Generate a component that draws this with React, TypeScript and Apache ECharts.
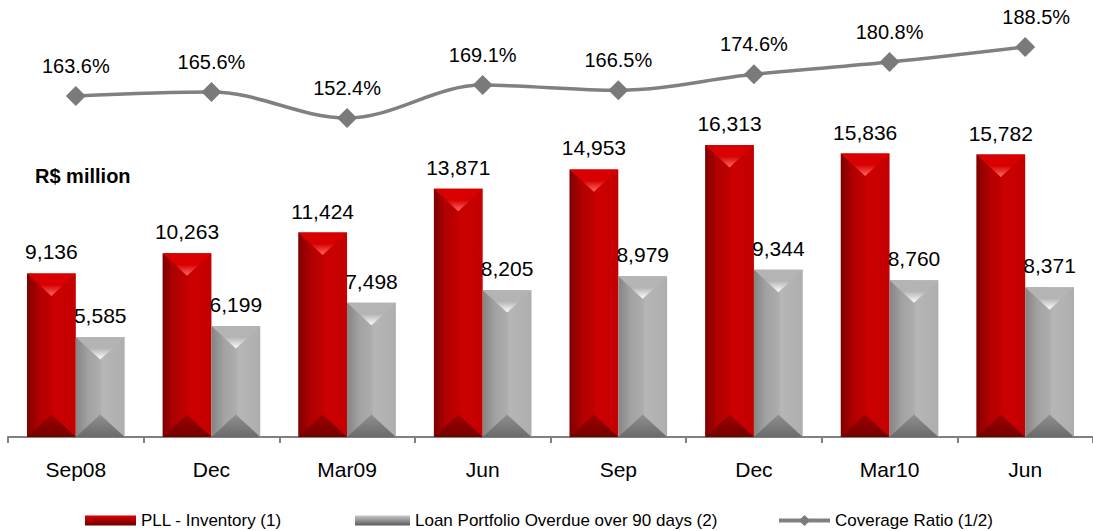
import React, { useEffect, useRef } from "react";
import * as echarts from "echarts";

const categories = ["Sep08", "Dec", "Mar09", "Jun", "Sep", "Dec", "Mar10", "Jun"];
const pllInventory = [9136, 10263, 11424, 13871, 14953, 16313, 15836, 15782];
const overdue90 = [5585, 6199, 7498, 8205, 8979, 9344, 8760, 8371];
const coverageRatio = [163.6, 165.6, 152.4, 169.1, 166.5, 174.6, 180.8, 188.5];

const seriesNames = [
  "PLL - Inventory (1)",
  "Loan Portfolio Overdue over 90 days (2)",
  "Coverage Ratio (1/2)",
];

const FONT = "Arial, 'Liberation Sans', sans-serif";

type Palette = {
  body: string[];
  topEdge: string;
  apex: string;
  bottomTop: string;
  bottomEdge: string;
};

const redPalette: Palette = {
  body: ["#7e0000", "#b00000", "#c20000", "#cc0000", "#c40000"],
  topEdge: "#d80000",
  apex: "#ff6a6a",
  bottomTop: "#a00000",
  bottomEdge: "#720000",
};
const grayPalette: Palette = {
  body: ["#848484", "#a2a2a2", "#adadad", "#b6b6b6", "#aeaeae"],
  topEdge: "#b4b4b4",
  apex: "#ffffff",
  bottomTop: "#909090",
  bottomEdge: "#6a6a6a",
};

function makeRenderItem(pal: Palette, side: number) {
  return (params: any, api: any) => {
    const idx = api.value(0);
    const v = api.value(1);
    const top = api.coord([idx, v]);
    const base = api.coord([idx, 0]);
    const band = api.size([1, 0])[0];
    const w = band * 0.36;
    const x0 = side < 0 ? top[0] - w : top[0];
    const x1 = x0 + w;
    const xc = (x0 + x1) / 2;
    const y0 = top[1];
    const yb = base[1];
    const h = yb - y0;
    const d = Math.min(w * 0.46, h / 2);
    const body = pal.body;
    return {
      type: "group",
      children: [
        {
          type: "rect",
          shape: { x: x0, y: y0, width: w, height: h },
          style: {
            fill: new echarts.graphic.LinearGradient(1, 0, 0, 0, [
              { offset: 0, color: body[4] },
              { offset: 0.45, color: body[3] },
              { offset: 0.5, color: body[2] },
              { offset: 0.75, color: body[1] },
              { offset: 1, color: body[0] },
            ]),
          },
        },
        {
          type: "polygon",
          shape: { points: [[x0, y0], [x1, y0], [xc, y0 + d]] },
          style: {
            fill: new echarts.graphic.LinearGradient(0, 0, 0, 1, [
              { offset: 0, color: pal.topEdge },
              { offset: 0.5, color: pal.topEdge },
              { offset: 1, color: pal.apex },
            ]),
          },
        },
        {
          type: "polygon",
          shape: { points: [[x0, yb], [x1, yb], [xc, yb - d]] },
          style: {
            fill: new echarts.graphic.LinearGradient(0, 0, 0, 1, [
              { offset: 0, color: pal.bottomTop },
              { offset: 1, color: pal.bottomEdge },
            ]),
          },
        },
        {
          type: "text",
          x: xc,
          y: y0 - 11,
          style: {
            text: Number(v).toLocaleString("en-US"),
            align: "center",
            verticalAlign: "bottom",
            fontSize: 21,
            fontFamily: FONT,
            fill: "#000",
          },
        },
      ],
    };
  };
}

export default function App() {
  const ref = useRef<HTMLDivElement>(null);

  useEffect(() => {
    if (!ref.current) return;
    const chart = echarts.init(ref.current, undefined, { renderer: "svg" });

    const legendText = { fontSize: 17, fontFamily: FONT, color: "#000" };

    chart.setOption({
      animation: false,
      backgroundColor: "#fff",
      grid: { left: 8, right: -5, top: 20, bottom: 94, containLabel: false },
      xAxis: {
        type: "category",
        data: categories,
        boundaryGap: true,
        axisLine: { lineStyle: { color: "#808080", width: 2 } },
        axisTick: { show: true, length: 6, lineStyle: { color: "#808080", width: 2 } },
        axisLabel: { fontSize: 21, fontFamily: FONT, color: "#000", margin: 22 },
        splitLine: { show: false },
      },
      yAxis: [
        { type: "value", min: 0, max: 23300, show: false, splitLine: { show: false } },
        { type: "value", min: -9.8, max: 202.2, show: false, splitLine: { show: false } },
      ],
      legend: [
        {
          left: 85,
          top: 512,
          padding: 0,
          itemWidth: 51,
          itemHeight: 10,
          itemGap: 6,
          textStyle: legendText,
          data: [
            {
              name: seriesNames[0],
              icon: "rect",
              itemStyle: {
                color: new echarts.graphic.LinearGradient(0, 0, 0, 1, [
                  { offset: 0, color: "#e00000" },
                  { offset: 1, color: "#6a0000" },
                ]),
              },
            },
          ],
        },
        {
          left: 355,
          top: 512,
          padding: 0,
          itemWidth: 55,
          itemHeight: 10,
          textStyle: legendText,
          data: [
            {
              name: seriesNames[1],
              icon: "rect",
              itemStyle: {
                color: new echarts.graphic.LinearGradient(0, 0, 0, 1, [
                  { offset: 0, color: "#c8c8c8" },
                  { offset: 1, color: "#5a5a5a" },
                ]),
              },
            },
          ],
        },
        {
          left: 777,
          top: 512,
          padding: 0,
          itemWidth: 51,
          itemHeight: 14,
          textStyle: legendText,
          data: [{ name: seriesNames[2], lineStyle: { width: 4, color: "#808080" } }],
        },
      ],
      graphic: [
        {
          type: "text",
          left: 35,
          top: 166,
          style: {
            text: "R$ million",
            fontSize: 20,
            fontWeight: "bold",
            fontFamily: FONT,
            fill: "#000",
          },
        },
      ],
      series: [
        {
          name: seriesNames[0],
          type: "custom",
          xAxisIndex: 0,
          yAxisIndex: 0,
          itemStyle: { color: "#c00000" },
          renderItem: makeRenderItem(redPalette, -1),
          encode: { x: 0, y: 1 },
          data: pllInventory.map((v, i) => [i, v]),
        },
        {
          name: seriesNames[1],
          type: "custom",
          xAxisIndex: 0,
          yAxisIndex: 0,
          itemStyle: { color: "#a0a0a0" },
          renderItem: makeRenderItem(grayPalette, 1),
          encode: { x: 0, y: 1 },
          data: overdue90.map((v, i) => [i, v]),
        },
        {
          name: seriesNames[2],
          type: "line",
          yAxisIndex: 1,
          smooth: 0.35,
          symbol: "diamond",
          symbolSize: 20,
          lineStyle: { color: "#808080", width: 3.5 },
          itemStyle: { color: "#7a7a7a" },
          label: {
            show: true,
            position: "top",
            distance: 10,
            fontSize: 20,
            fontFamily: FONT,
            color: "#000",
            formatter: (p: any) => Number(p.value).toFixed(1) + "%",
          },
          data: coverageRatio.map((v, i) =>
            i === coverageRatio.length - 1 ? { value: v, label: { offset: [11, 0] } } : v
          ),
        },
      ],
    });

    return () => chart.dispose();
  }, []);

  return (
    <div
      ref={ref}
      style={{ position: "fixed", left: 0, top: 0, width: 1093, height: 531 }}
    />
  );
}
